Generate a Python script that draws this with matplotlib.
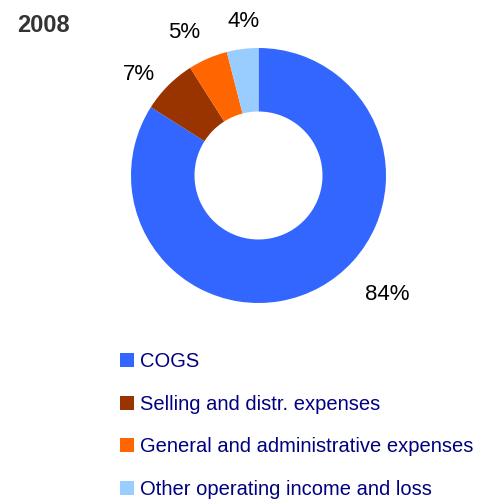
import matplotlib
matplotlib.use("Agg")
import matplotlib.pyplot as plt
from matplotlib.patches import Rectangle

plt.rcParams["font.family"] = ["Liberation Sans", "DejaVu Sans"]

# Cost structure, 2008
year = "2008"
categories = [
    "COGS",
    "Selling and distr. expenses",
    "General and administrative expenses",
    "Other operating income and loss",
]
shares = [84, 7, 5, 4]
colors = ["#3366FF", "#993300", "#FF6600", "#99CCFF"]

W, H = 485, 499
fig = plt.figure(figsize=(W / 100, H / 100), dpi=100)
ax = fig.add_axes([0, 0, 1, 1])


def py(y):
    """Convert a top-down pixel row to the axis's upward y coordinate."""
    return H - y


# Donut ring
cx, cy, r_out, ring = 258.5, 175.5, 127.5, 63.5
ax.pie(
    shares,
    colors=colors,
    startangle=90,
    counterclock=False,
    radius=r_out,
    center=(cx, py(cy)),
    wedgeprops=dict(width=ring, linewidth=0),
)

# Percentage labels (left x, baseline y)
label_pos = [(365, 300.5), (123, 80), (168, 37.5), (228, 26.5)]
for v, (x, y) in zip(shares, label_pos):
    ax.text(x, py(y), f"{v}%", fontsize=16, color="black",
            ha="left", va="baseline")

# Title
ax.text(17, py(31.5), year, fontsize=17, fontweight="bold", color="#333333",
        ha="left", va="baseline")

# Legend
sq = 14
row0, step = 366.7, 42.9
for i, (name, c) in enumerate(zip(categories, colors)):
    base = row0 + i * step
    ax.add_patch(Rectangle((120, py(base)), sq, sq, facecolor=c,
                           edgecolor="none"))
    ax.text(140, py(base), name, fontsize=14.5, color="#000080",
            ha="left", va="baseline")

ax.set_xlim(0, W)
ax.set_ylim(0, H)
ax.set_aspect("equal")
ax.axis("off")

fig.savefig("out.png", dpi=100, facecolor="white")
